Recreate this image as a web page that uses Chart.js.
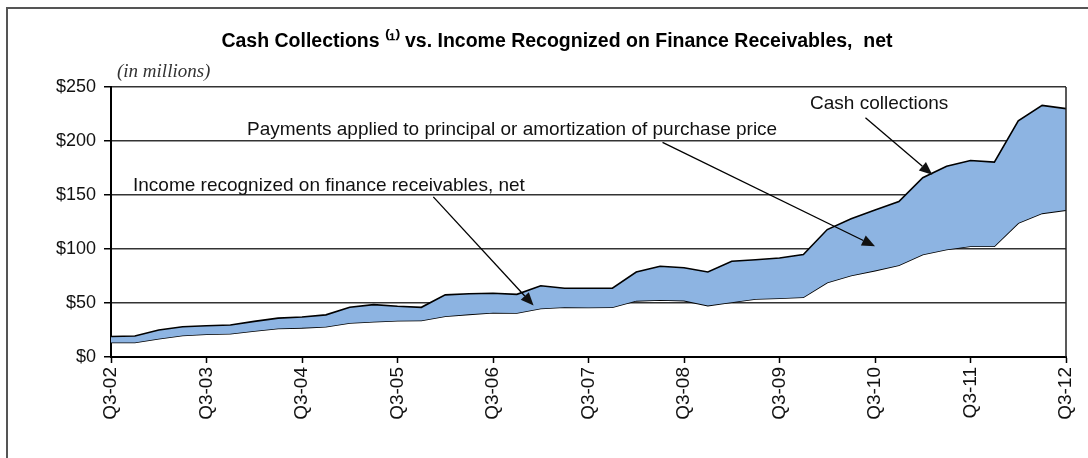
<!DOCTYPE html>
<html>
<head>
  <meta charset="utf-8" />
  <title>Cash Collections vs. Income Recognized</title>
  <style>
    html, body { margin: 0; padding: 0; background: #fff; }
    #wrap { position: relative; width: 1088px; height: 458px; overflow: hidden; }
    #frame { position: absolute; left: 6px; top: 7px; width: 1100px; height: 470px; border: 2px solid #555; }
    #chart { position: absolute; left: 0; top: 0; }
  </style>
</head>
<body>
<div id="wrap">
  <div id="frame"></div>
  <canvas id="chart" width="1088" height="458"></canvas>
</div>

<script src="https://cdn.jsdelivr.net/npm/chart.js"></script>
<script>
  // quarters Q3-02 .. Q3-12
  var quarters = [
    'Q3-02','Q4-02','Q1-03','Q2-03','Q3-03','Q4-03','Q1-04','Q2-04','Q3-04','Q4-04',
    'Q1-05','Q2-05','Q3-05','Q4-05','Q1-06','Q2-06','Q3-06','Q4-06','Q1-07','Q2-07',
    'Q3-07','Q4-07','Q1-08','Q2-08','Q3-08','Q4-08','Q1-09','Q2-09','Q3-09','Q4-09',
    'Q1-10','Q2-10','Q3-10','Q4-10','Q1-11','Q2-11','Q3-11','Q4-11','Q1-12','Q2-12',
    'Q3-12'
  ];

  // $ millions
  var cashCollections = [
    19, 19.5, 25, 28, 29, 29.6, 33, 36, 37, 39,
    46, 48.5, 47, 46, 57.5, 58.5, 59, 58, 66, 63.7,
    63.7, 63.7, 78.7, 84, 82.7, 78.7, 88.6, 90, 91.7, 94.8,
    118, 128, 136, 144, 166, 176.6, 182, 180.5, 218.6, 233,
    230
  ];
  var incomeRecognized = [
    13.5, 13.5, 17, 20, 21, 21.5, 24, 26.5, 27, 28,
    31.5, 32.6, 33.6, 33.8, 37.8, 39.5, 41, 40.8, 45, 46,
    45.8, 46, 52, 52.8, 52.2, 47.6, 50.7, 53.8, 54.4, 55.3,
    69, 75.5, 80, 85, 95, 99.5, 102.6, 102.6, 124, 133,
    136
  ];
  var yTicks = [0, 50, 100, 150, 200, 250];

  var FONT = "'Liberation Sans', Arial, sans-serif";
  var TITLE = 'Cash Collections \u207D\u00B9\u207E vs. Income Recognized on Finance Receivables,  net';

  // callouts: text position in pixels, arrow in data coordinates (index, value)
  var callouts = [
    { text: 'Cash collections', tx: 810, ty: 104, from: [31.6, 221.5], to: [34.4, 168.8] },
    { text: 'Payments applied to principal or amortization of purchase price', tx: 247, ty: 130, from: [23.1, 198.7], to: [32.0, 102.6] },
    { text: 'Income recognized on finance receivables, net', tx: 133, ty: 186, from: [13.5, 148.3], to: [17.7, 47.6] }
  ];

  function drawArrow(ctx, x1, y1, x2, y2) {
    var ang = Math.atan2(y2 - y1, x2 - x1);
    var len = 13, half = 5.5;
    var bx = x2 - len * Math.cos(ang), by = y2 - len * Math.sin(ang);
    ctx.beginPath();
    ctx.moveTo(x1, y1);
    ctx.lineTo(bx, by);
    ctx.stroke();
    ctx.beginPath();
    ctx.moveTo(x2, y2);
    ctx.lineTo(bx + half * Math.sin(ang), by - half * Math.cos(ang));
    ctx.lineTo(bx - half * Math.sin(ang), by + half * Math.cos(ang));
    ctx.closePath();
    ctx.fill();
  }

  var extras = {
    id: 'extras',
    afterDraw: function(chart) {
      var ctx = chart.ctx, a = chart.chartArea;
      var xs = chart.scales.x, ys = chart.scales.y;
      ctx.save();
      // right edge of plot area
      ctx.strokeStyle = '#222';
      ctx.lineWidth = 1.5;
      ctx.beginPath();
      ctx.moveTo(a.right, a.top);
      ctx.lineTo(a.right, a.bottom);
      ctx.stroke();

      ctx.textBaseline = 'middle';
      ctx.textAlign = 'center';
      ctx.fillStyle = '#000';
      ctx.font = 'bold 19.5px ' + FONT;
      ctx.fillText(TITLE, 557, 42);

      ctx.textAlign = 'left';
      ctx.fillStyle = '#333';
      ctx.font = "italic 19px 'Liberation Serif', 'Times New Roman', serif";
      ctx.fillText('(in millions)', 117, 72);

      ctx.font = '19px ' + FONT;
      ctx.fillStyle = '#111';
      ctx.strokeStyle = '#000';
      ctx.lineWidth = 1.3;
      callouts.forEach(function(c) {
        ctx.fillText(c.text, c.tx, c.ty);
        drawArrow(ctx,
          xs.getPixelForValue(c.from[0]), ys.getPixelForValue(c.from[1]),
          xs.getPixelForValue(c.to[0]), ys.getPixelForValue(c.to[1]));
      });
      ctx.restore();
    }
  };

  var chart = new Chart(document.getElementById('chart'), {
    type: 'line',
    data: {
      labels: quarters,
      datasets: [{
        label: 'Cash collections',
        data: cashCollections,
        borderColor: '#000',
        borderWidth: 1.6,
        backgroundColor: 'rgb(141,180,226)',
        fill: '+1',
        pointRadius: 0,
        tension: 0
      }, {
        label: 'Income recognized on finance receivables, net',
        data: incomeRecognized,
        borderColor: '#000',
        borderWidth: 1.6,
        fill: false,
        pointRadius: 0,
        tension: 0
      }]
    },
    options: {
      responsive: false,
      animation: false,
      layout: { padding: { left: 0, right: 22, top: 87, bottom: 0 } },
      plugins: {
        legend: { display: false },
        tooltip: { enabled: false },
        title: { display: false }
      },
      scales: {
        x: {
          offset: false,
          afterFit: function(s) { s.height = 101; s.paddingLeft = 0; s.paddingRight = 0; },
          border: { color: '#000', width: 2 },
          grid: { drawOnChartArea: false, drawTicks: true, tickLength: 6, tickColor: '#000', tickWidth: 1.5 },
          ticks: {
            autoSkip: false,
            maxRotation: 90,
            minRotation: 90,
            padding: 4,
            color: '#111',
            font: { family: FONT, size: 19 },
            callback: function(v, i) { return i % 4 === 0 ? quarters[i] : null; }
          }
        },
        y: {
          min: 0,
          max: 250,
          afterFit: function(s) { s.width = 111; },
          afterBuildTicks: function(s) { s.ticks = yTicks.map(function(v) { return { value: v }; }); },
          border: { color: '#000', width: 2 },
          grid: { color: '#333', lineWidth: 1.5, tickLength: 7, tickColor: '#000' },
          ticks: {
            padding: 8,
            color: '#111',
            font: { family: FONT, size: 18 },
            callback: function(v) { return '$' + v; }
          }
        }
      }
    },
    plugins: [extras]
  });
</script>
</body>
</html>
